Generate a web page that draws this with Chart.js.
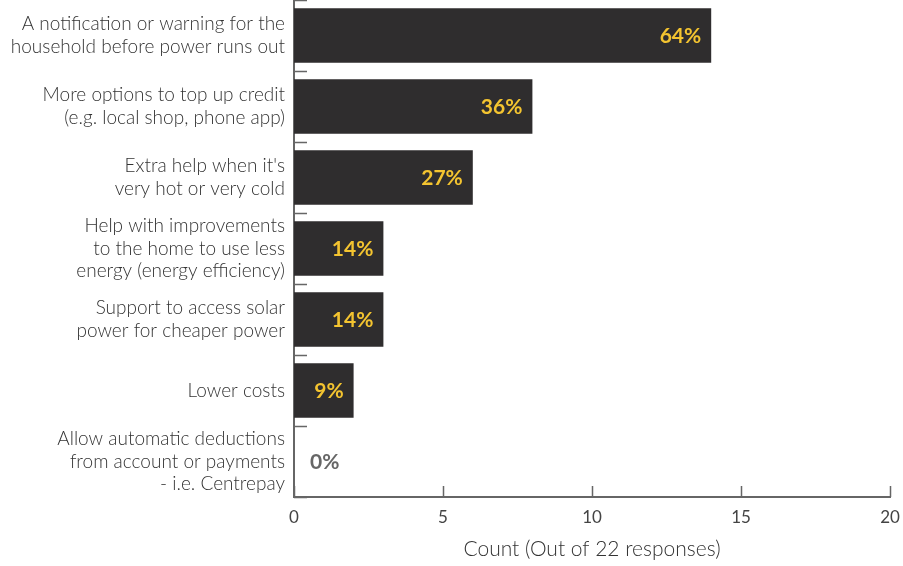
<!DOCTYPE html>
<html>
<head>
<meta charset="utf-8">
<script src="https://cdn.jsdelivr.net/npm/chart.js@4"></script>
<style>
  html, body { margin: 0; padding: 0; background: #fff; }
  #wrap { width: 903px; height: 566px; }
</style>
</head>
<body>
<div id="wrap"><canvas id="supportChart"></canvas></div>
<script>
// Categories (multi-line labels)
const categories = [
    ["A notification or warning for the", "household before power runs out"],
    ["More options to top up credit", "(e.g. local shop, phone app)"],
    ["Extra help when it's", "very hot or very cold"],
    ["Help with improvements", "to the home to use less", "energy (energy efficiency)"],
    ["Support to access solar", "power for cheaper power"],
    ["Lower costs"],
    ["Allow automatic deductions", "from account or payments", "- i.e. Centrepay"]
];
const counts = [14, 8, 6, 3, 3, 2, 0];
const totalResponses = 22;
const xTicks = [0, 5, 10, 15, 20];

const FONT = "Lato, 'Open Sans', sans-serif";
const AXIS_COLOR = "#666";

// draws inward tick marks on both axes
const innerTicks = {
    id: "innerTicks",
    afterDraw(chart) {
        const ctx = chart.ctx;
        const x = chart.scales.x, y = chart.scales.y;
        ctx.save();
        ctx.strokeStyle = AXIS_COLOR;
        ctx.lineWidth = 1.5;
        ctx.beginPath();
        for (let i = 0; i <= categories.length; i++) {
            const py = Math.round(y.getPixelForValue(i - 0.5)) + 0.5;
            ctx.moveTo(x.left, py);
            ctx.lineTo(x.left + 13, py);
        }
        xTicks.forEach(function(v) {
            const px = Math.round(x.getPixelForValue(v)) + 0.5;
            ctx.moveTo(px, y.bottom);
            ctx.lineTo(px, y.bottom - 11);
        });
        ctx.stroke();
        ctx.restore();
    }
};

// percentage labels at the end of each bar
const pctLabels = {
    id: "pctLabels",
    afterDatasetsDraw(chart) {
        const ctx = chart.ctx;
        const meta = chart.getDatasetMeta(0);
        const x = chart.scales.x;
        ctx.save();
        ctx.font = "bold 21px " + FONT;
        ctx.textBaseline = "middle";
        meta.data.forEach(function(bar, i) {
            const pct = Math.round(counts[i] / totalResponses * 100) + "%";
            if (counts[i] > 0) {
                ctx.fillStyle = "#f4c430";
                ctx.textAlign = "right";
                ctx.fillText(pct, bar.x - 10, bar.y + 1);
            } else {
                ctx.fillStyle = "#666";
                ctx.textAlign = "left";
                ctx.fillText(pct, x.left + 16, bar.y + 1);
            }
        });
        ctx.restore();
    }
};

new Chart(document.getElementById("supportChart"), {
    type: "bar",
    data: {
        labels: categories,
        datasets: [{
            data: counts,
            backgroundColor: "#2f2d2e",
            barPercentage: 0.77,
            categoryPercentage: 1.0
        }]
    },
    plugins: [innerTicks, pctLabels],
    options: {
        indexAxis: "y",
        responsive: true,
        maintainAspectRatio: false,
        animation: false,
        layout: { padding: { top: 0, right: 13, left: 0, bottom: 0 } },
        plugins: {
            legend: { display: false },
            tooltip: { enabled: false }
        },
        scales: {
            x: {
                min: 0,
                max: 20,
                afterBuildTicks: function(scale) {
                    scale.ticks = xTicks.map(function(v) { return { value: v }; });
                },
                afterFit: function(scale) {
                    scale.height = 69;
                    scale.paddingLeft = 0;
                    scale.paddingRight = 0;
                },
                grid: { display: false, drawTicks: false },
                border: { display: true, color: AXIS_COLOR, width: 2 },
                ticks: {
                    color: "#444",
                    padding: 10,
                    font: { family: FONT, size: 17 }
                },
                title: {
                    display: true,
                    text: "Count (Out of 22 responses)",
                    color: "#333",
                    padding: { top: 7 },
                    font: { family: FONT, size: 21, weight: "300" }
                }
            },
            y: {
                afterFit: function(scale) {
                    scale.width = 294;
                    scale.paddingTop = 0;
                    scale.paddingBottom = 0;
                },
                grid: { display: false, drawTicks: false },
                border: { display: true, color: AXIS_COLOR, width: 2 },
                ticks: {
                    autoSkip: false,
                    color: "#333",
                    padding: 9,
                    font: { family: FONT, size: 19, weight: "300", lineHeight: 1.18 }
                }
            }
        }
    }
});
</script>
</body>
</html>
